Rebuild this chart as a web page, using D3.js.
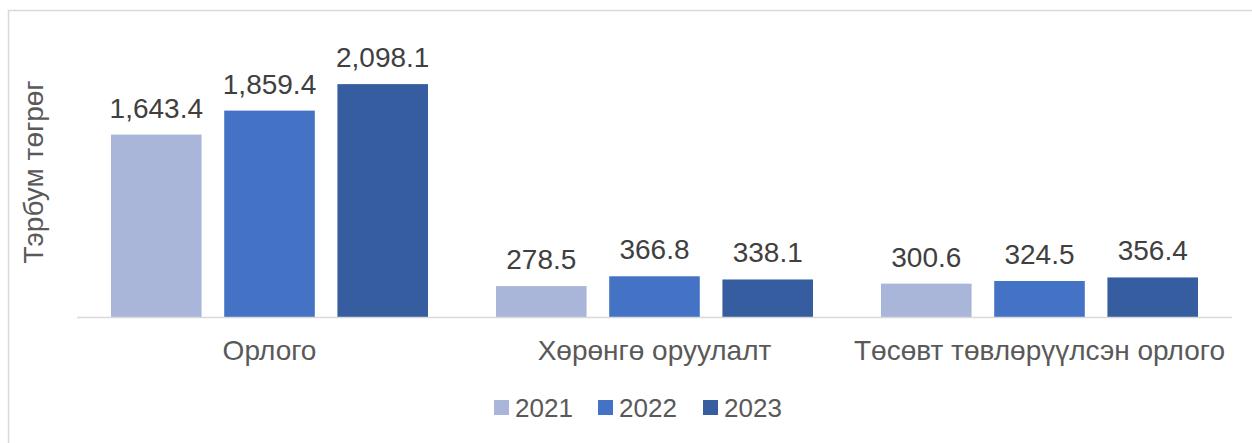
<!DOCTYPE html>
<html>
<head>
<meta charset="utf-8">
<script src="https://cdn.jsdelivr.net/npm/d3@7"></script>
<style>
  html, body { margin: 0; padding: 0; background: #ffffff; }
  svg { display: block; font-family: "Liberation Sans", Arial, sans-serif; }
</style>
</head>
<body>
<svg id="chart" width="1252" height="443"></svg>
<script>
const categories = ["Орлого", "Хөрөнгө оруулалт", "Төсөвт төвлөрүүлсэн орлого"];
const years = ["2021", "2022", "2023"];
const values2021 = [1643.4, 278.5, 300.6];
const values2022 = [1859.4, 366.8, 324.5];
const values2023 = [2098.1, 338.1, 356.4];
const colors = ["#a9b6da", "#4472c4", "#355da0"];
const yTitle = "Тэрбум төгрөг";

const series = [values2021, values2022, values2023];
const data = categories.map((c, i) => ({
  cat: c,
  vals: years.map((y, j) => ({ year: y, value: series[j][i], idx: j }))
}));

const svg = d3.select("#chart");
const W = 1252, H = 443;

// outer border
svg.append("rect")
  .attr("x", 8.5).attr("y", 10.5)
  .attr("width", W + 10).attr("height", H + 10)
  .attr("fill", "none").attr("stroke", "#d9d9d9").attr("stroke-width", 1.5);

const plotLeft = 77, plotRight = 1232, baseY = 317;

const x0 = d3.scaleBand().domain(categories).range([plotLeft, plotRight]).paddingInner(0).paddingOuter(0);
const groupPad = 34;
const x1 = d3.scaleBand().domain(years).range([groupPad, x0.bandwidth() - groupPad]).paddingInner(0.2).paddingOuter(0);
const y = d3.scaleLinear().domain([0, 2500]).range([baseY, baseY - 277.5]);
const color = d3.scaleOrdinal().domain(years).range(colors);

const fmt = d3.format(",.1f");

const groups = svg.append("g").selectAll("g").data(data).join("g")
  .attr("transform", d => `translate(${x0(d.cat)},0)`);

groups.selectAll("rect").data(d => d.vals).join("rect")
  .attr("x", d => x1(d.year))
  .attr("y", d => y(d.value))
  .attr("width", x1.bandwidth())
  .attr("height", d => y(0) - y(d.value))
  .attr("fill", d => color(d.year));

groups.selectAll("text").data(d => d.vals).join("text")
  .attr("x", d => x1(d.year) + x1.bandwidth() / 2)
  .attr("y", d => y(d.value) - 17)
  .attr("text-anchor", "middle")
  .attr("font-size", 28)
  .attr("fill", "#404040")
  .text(d => fmt(d.value));

// baseline axis
const xAxis = d3.axisBottom(x0).tickSize(0).tickPadding(0);
const axisG = svg.append("g").attr("transform", `translate(0,${baseY})`).call(xAxis);
axisG.select(".domain").attr("stroke", "#d9d9d9").attr("stroke-width", 1.5)
  .attr("d", `M${plotLeft},0.5H${plotRight}`);
axisG.selectAll(".tick text")
  .attr("y", 43).attr("dy", 0)
  .attr("font-size", 28)
  .attr("font-family", "\"Liberation Sans\", Arial, sans-serif")
  .attr("fill", "#595959");

// y title
svg.append("text")
  .attr("transform", "translate(43,172) rotate(-90)")
  .attr("text-anchor", "middle")
  .attr("font-size", 28)
  .attr("fill", "#595959")
  .text(yTitle);

// legend
const legendX = [494, 598, 703];
const leg = svg.append("g").selectAll("g").data(years).join("g")
  .attr("transform", (d, i) => `translate(${legendX[i]},400)`);
leg.append("rect").attr("width", 15).attr("height", 15).attr("fill", d => color(d));
leg.append("text").attr("x", 21).attr("y", 17).attr("font-size", 26).attr("fill", "#595959").text(d => d);
</script>
</body>
</html>
